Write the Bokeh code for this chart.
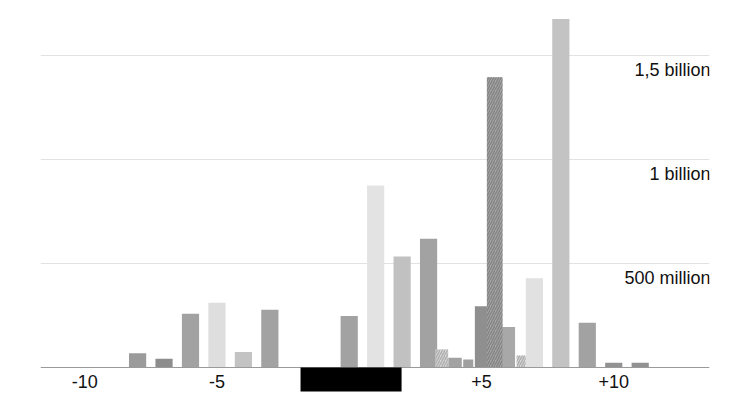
from bokeh.plotting import figure
from bokeh.models import Range1d, FixedTicker, ColumnDataSource
from bokeh.core.properties import value
from bokeh.embed import file_html
from bokeh.resources import INLINE

# ---- data (values in millions) ----
years = [-8, -7, -6, -5, -4, -3, 0, 1, 2, 3, 4, 5, 6, 7, 8, 9, 10, 11]
values_m = [69, 42, 258, 311, 75, 277, 247, 875, 534, 619, 47, 295, 195, 429, 1675, 215, 23, 23]
second_x = [3.5, 4.5, 5.5, 6.5]
second_m = [86, 39, 1395, 58]
x_ticks = [-10, -5, 5, 10]
x_tick_labels = ["-10", "-5", "+5", "+10"]
y_ticks = [500, 1000, 1500]
y_tick_labels = ["500 million", "1 billion", "1,5 billion"]

# ---- styles ----
main_colors = ["#9b9b9b", "#8d8d8d", "#a2a2a2", "#dedede", "#c3c3c3", "#a2a2a2",
               "#a2a2a2", "#e3e3e3", "#c1c1c1", "#a2a2a2", "#a2a2a2", "#8f8f8f",
               "#a8a8a8", "#e1e1e1", "#c3c3c3", "#a2a2a2", "#929292", "#929292"]
main_widths = [0.65] * 10 + [0.51, 0.5, 0.54] + [0.65] * 5
second_widths = [0.48, 0.38, 0.59, 0.34]
second_fill = ["#d8d8d8", "#a0a0a0", "#a8a8a8", "#d8d8d8"]
second_hatch = ["/", " ", "/", "/"]
second_hatch_color = ["#b0b0b0", "#a0a0a0", "#858585", "#b0b0b0"]

FONT = "Liberation Sans"
x_start, x_end = -11.67, 13.62
y_start, y_end = -158.7, 1716.3

p = figure(width=747, height=408,
           x_range=Range1d(x_start, x_end), y_range=Range1d(y_start, y_end),
           output_backend="svg", toolbar_location=None,
           min_border_left=40, min_border_right=38,
           min_border_top=10, min_border_bottom=8)
p.outline_line_color = None
p.background_fill_color = "white"
p.yaxis.visible = False
p.xgrid.visible = False
p.ygrid.ticker = FixedTicker(ticks=y_ticks)
p.ygrid.grid_line_color = "#e2e2e2"
p.ygrid.grid_line_width = 1

ax = p.xaxis[0]
ax.fixed_location = 0
ax.ticker = FixedTicker(ticks=x_ticks)
ax.major_label_overrides = dict(zip(x_ticks, x_tick_labels))
ax.major_tick_line_color = None
ax.minor_tick_line_color = None
ax.major_tick_in = 0
ax.major_tick_out = 0
ax.axis_line_color = "#9a9a9a"
ax.axis_line_width = 1.2
ax.major_label_text_font = FONT
ax.major_label_text_font_size = "18px"
ax.major_label_text_color = "#111111"
ax.major_label_standoff = 8

main_src = ColumnDataSource(dict(x=years, top=values_m, w=main_widths, c=main_colors))
p.vbar(x="x", top="top", bottom=0, width="w", fill_color="c", line_color=None, source=main_src)

sec_src = ColumnDataSource(dict(x=second_x, top=second_m, w=second_widths, c=second_fill,
                                hp=second_hatch, hc=second_hatch_color))
p.vbar(x="x", top="top", bottom=0, width="w", fill_color="c", line_color=None,
       hatch_pattern="hp", hatch_color="hc", hatch_scale=5, hatch_weight=1.5, source=sec_src)

p.text(x=[x_end] * len(y_ticks), y=y_ticks, text=y_tick_labels,
       text_align="right", text_baseline="alphabetic", x_offset=1, y_offset=15,
       text_font=value(FONT), text_font_size="18px", text_color="#111111")

# redaction box over the "0" tick label
p.quad(left=[-1.84], right=[1.98], top=[0], bottom=[-115.4],
       fill_color="black", line_color=None, level="overlay")

open("out.html", "w").write(file_html(p, INLINE))
